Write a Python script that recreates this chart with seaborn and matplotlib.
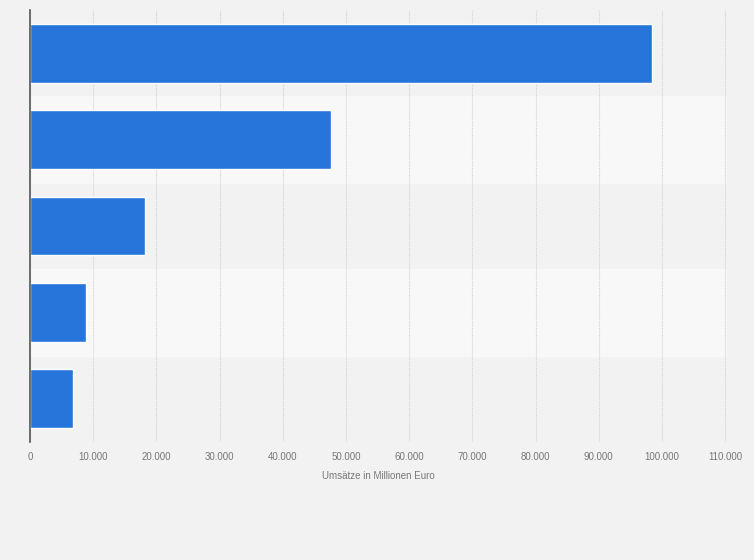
import matplotlib.pyplot as plt
import matplotlib.ticker as mticker
import pandas as pd
import seaborn as sns

# values (Millionen Euro), categories have no visible labels
categories = ["A", "B", "C", "D", "E"]
umsatz = [98500, 47700, 18230, 8850, 6850]
x_ticks = list(range(0, 110001, 10000))

df = pd.DataFrame({"kategorie": categories, "umsatz": umsatz})

sns.set_theme(style="white")
plt.rcParams["font.family"] = ["Liberation Sans", "DejaVu Sans"]

fig = plt.figure(figsize=(7.54, 5.6), dpi=100)
fig.patch.set_facecolor("#f2f2f2")
ax = fig.add_axes([30 / 754, 118 / 560, 697 / 754, 432 / 560])
ax.set_facecolor("#f2f2f2")

# alternating row bands
for i in range(len(categories)):
    if i % 2 == 1:
        ax.axhspan(i - 0.5, i + 0.5, color="#f8f8f8", zorder=0)

sns.barplot(data=df, x="umsatz", y="kategorie", orient="h", color="#2775da",
            saturation=1, width=0.68, ax=ax, zorder=3)

ax.set_xlim(0, 110300)
ax.set_ylim(len(categories) - 0.5, -0.5)
ax.set_xticks(x_ticks)
ax.xaxis.set_major_formatter(mticker.FuncFormatter(lambda v, p: f"{int(v):,}".replace(",", ".")))
ax.tick_params(axis="x", length=0, pad=7, labelsize=7, labelcolor="#777777")
ax.set_yticks([])
ax.set_ylabel("")
ax.set_xlabel("Umsätze in Millionen Euro", fontsize=7, color="#777777", labelpad=7)

ax.grid(axis="x", color="#d2d2d2", linestyle=(0, (1, 1)), linewidth=0.8, zorder=1)
ax.set_axisbelow(True)

for s in ["top", "right", "bottom"]:
    ax.spines[s].set_visible(False)
ax.spines["left"].set_color("#555555")
ax.spines["left"].set_linewidth(1.2)
ax.spines["left"].set_zorder(5)

fig.savefig("out.png", dpi=100, facecolor=fig.get_facecolor())
